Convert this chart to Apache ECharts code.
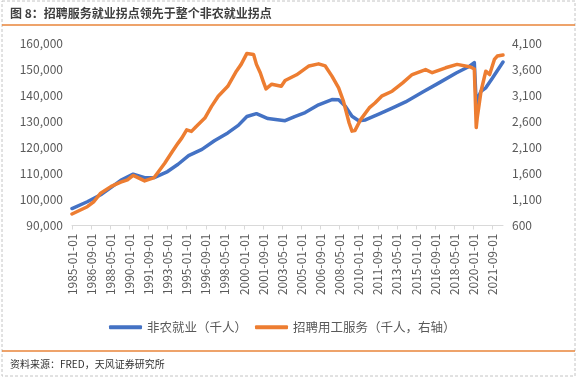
<!DOCTYPE html>
<html>
<head>
<meta charset="utf-8">
<script src="https://cdn.jsdelivr.net/npm/echarts@6/dist/echarts.min.js"></script>
<style>
html, body { margin: 0; padding: 0; background: #fff; }
#main { width: 577px; height: 377px; }
</style>
</head>
<body>
<div id="main"></div>
<script>
// 月度类目 1985-01 ~ 2022-08
var months = [];
for (var y = 1985; y <= 2022; y++) {
    for (var m = 1; m <= 12; m++) {
        if (y === 2022 && m > 8) break;
        months.push(y + '-' + (m < 10 ? '0' + m : m) + '-01');
    }
}

// 非农就业（千人），左轴
var nfDates = ['1985-01','1986-05','1987-07','1988-06','1989-04','1990-05','1991-05','1992-03','1993-05','1994-04',
    '1995-03','1996-05','1997-06','1998-08','1999-07','2000-04','2001-02','2002-02','2003-08','2004-06',
    '2005-05','2006-07','2007-09','2008-04','2008-11','2009-06','2010-01','2010-08','2011-10','2012-12',
    '2014-02','2015-08','2017-01','2018-07','2019-09','2020-02','2020-04','2020-05','2020-09','2021-02',
    '2021-09','2022-08'];
var nfValues = [96500,99100,101800,104600,107300,109700,108300,108400,110700,113500,
    116800,119200,122500,125500,128400,131800,132900,131000,130200,131800,
    133300,136300,138300,138200,135700,131900,130200,130500,132700,135000,
    137400,141200,144700,148500,151100,152500,136500,138300,141500,142800,
    146600,152700];

// 招聘用工服务（千人），右轴
var esDates = ['1985-01','1986-05','1986-12','1987-07','1988-06','1989-04','1989-11','1990-05','1991-05','1992-03',
    '1993-02','1993-10','1994-04','1994-08','1995-01','1995-06','1995-11','1996-08','1997-03','1997-10',
    '1998-08','1999-05','1999-10','2000-04','2000-11','2001-02','2001-06','2001-09','2001-12','2002-06',
    '2003-04','2003-08','2004-08','2005-09','2006-07','2007-02','2007-09','2008-04','2008-09','2009-03',
    '2009-06','2009-09','2010-03','2010-12','2011-06','2012-01','2012-12','2013-11','2014-09','2015-11',
    '2016-06','2017-08','2018-08','2019-10','2020-02','2020-04','2020-05','2020-09','2021-02','2021-06',
    '2021-11','2022-02','2022-08'];
var esValues = [820,960,1060,1220,1350,1430,1475,1560,1455,1520,
    1795,2020,2180,2280,2435,2405,2500,2660,2885,3080,
    3270,3560,3690,3900,3880,3690,3530,3370,3220,3310,
    3270,3380,3490,3660,3700,3660,3465,3240,2985,2565,
    2410,2420,2630,2855,2950,3080,3175,3335,3495,3590,
    3530,3625,3690,3640,3600,2480,2660,3175,3560,3495,
    3785,3850,3870];

var leftTicks = { min: 90000, max: 160000, interval: 10000 };
var rightTicks = { min: 600, max: 4100, interval: 500 };

function pairs(dates, values) {
    return dates.map(function (d, i) { return [d + '-01', values[i]]; });
}
function fmt(v) { return v.toLocaleString('en-US'); }

var myChart = echarts.init(document.getElementById('main'));
var font = '"Noto Sans CJK SC", "Noto Sans", sans-serif';

option = {
    animation: false,
    textStyle: { fontFamily: font },
    grid: { left: 72, right: 74, top: 43, bottom: 151.5 },
    legend: {
        left: 104,
        top: 316,
        icon: 'roundRect',
        itemWidth: 33,
        itemHeight: 4,
        itemGap: 8,
        textStyle: { color: '#595959', fontSize: 12.5, fontFamily: font },
        data: ['非农就业（千人）', '招聘用工服务（千人，右轴）']
    },
    graphic: [
        { type: 'rect', shape: { x: 2, y: 1, width: 573, height: 375 }, style: { fill: 'none', stroke: '#c4c4c4', lineWidth: 1, lineDash: [3, 2] } },
        { type: 'text', left: 10, top: 7, style: { text: '图 8：招聘服务就业拐点领先于整个非农就业拐点', fill: '#404040', font: 'bold 12px ' + font } },
        { type: 'line', shape: { x1: 2, y1: 25, x2: 575, y2: 25 }, style: { stroke: '#E8853A', lineWidth: 1.5 } },
        { type: 'line', shape: { x1: 2, y1: 351, x2: 575, y2: 351 }, style: { stroke: '#E8853A', lineWidth: 1.5 } },
        { type: 'text', left: 10, top: 359, style: { text: '资料来源：FRED，天风证券研究所', fill: '#333', font: '10px ' + font } }
    ],
    xAxis: {
        type: 'category',
        boundaryGap: false,
        data: months,
        axisLine: { lineStyle: { color: '#d9d9d9' } },
        axisTick: { interval: 19, length: 4, lineStyle: { color: '#d9d9d9' } },
        axisLabel: { interval: 19, rotate: 90, color: '#595959', fontSize: 12, margin: 8 }
    },
    yAxis: [
        {
            type: 'value',
            min: leftTicks.min, max: leftTicks.max, interval: leftTicks.interval,
            splitLine: { show: false },
            axisLine: { show: false },
            axisTick: { show: false },
            axisLabel: { color: '#595959', fontSize: 12, margin: 9, formatter: fmt }
        },
        {
            type: 'value',
            min: rightTicks.min, max: rightTicks.max, interval: rightTicks.interval,
            splitLine: { show: false },
            axisLine: { show: false },
            axisTick: { show: false },
            axisLabel: { color: '#595959', fontSize: 12, margin: 9, formatter: fmt }
        }
    ],
    series: [
        {
            name: '非农就业（千人）',
            type: 'line',
            yAxisIndex: 0,
            showSymbol: false,
            color: '#4472C4',
            lineStyle: { width: 3.5, color: '#4472C4', cap: 'round', join: 'round' },
            data: pairs(nfDates, nfValues)
        },
        {
            name: '招聘用工服务（千人，右轴）',
            type: 'line',
            yAxisIndex: 1,
            showSymbol: false,
            color: '#ED7D31',
            lineStyle: { width: 3.5, color: '#ED7D31', cap: 'round', join: 'round' },
            data: pairs(esDates, esValues)
        }
    ]
};
myChart.setOption(option);
window.addEventListener('resize', function () {
    myChart.resize();
});
</script>
</body>
</html>
